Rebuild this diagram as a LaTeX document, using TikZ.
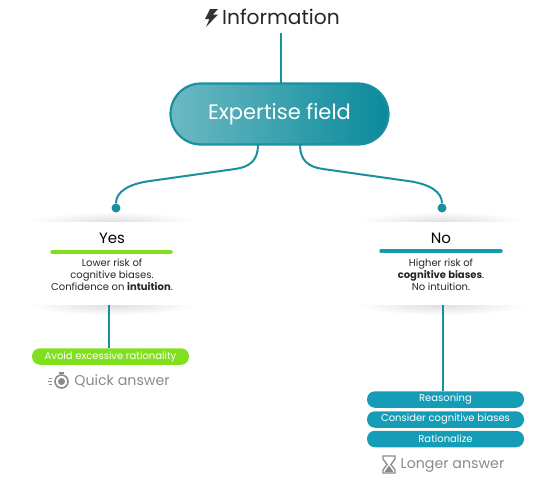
\documentclass[tikz,border=0pt]{standalone}
\usepackage{fontspec}
\setmainfont{Poppins}
\usetikzlibrary{positioning}
\definecolor{tealline}{HTML}{1A8FA0}
\definecolor{fieldright}{HTML}{0A8A9C}
\definecolor{fieldleft}{HTML}{6CB9C2}
\definecolor{pillblue}{HTML}{159DB8}
\definecolor{limegreen}{HTML}{80E01E}
\definecolor{softgray}{HTML}{8A8A8A}
\tikzset{
    link/.style={draw=tealline, line width=2pt},
    dot/.style={circle, fill=tealline, minimum size=9pt, inner sep=0pt},
    pill/.style={rounded corners=8pt, minimum width=157pt, minimum height=16.5pt, inner sep=0pt, text=white, font=\fontsize{10}{11}\selectfont},
    cardtext/.style={align=center, text=black!85, font=\fontsize{10}{12}\selectfont},
    bar/.style={line width=3.5pt, line cap=round},
    answer/.style={text=softgray, font=\fontsize{14.2}{16}\selectfont}
}
\begin{document}
\begin{tikzpicture}[x=1pt,y=-1pt]
    \useasboundingbox (0,0) rectangle (560,490);
    % soft shadows behind the two cards
    \foreach \cx in {112,441}
        {
            \shade[inner color=black!13, outer color=white] (\cx,222) ellipse (85 and 10);
            \shade[inner color=black!13, outer color=white] (\cx,305) ellipse (85 and 10);
            \fill[white] (\cx-90,222) rectangle (\cx+90,305);
        }

    \node[font=\fontsize{20.2}{22}\selectfont, text=black!85] (info) at (281,17) {Information};
    \fill[black!80] (210,9) -- (205,19) -- (209.5,19) -- (206,27) -- (218,14.5) -- (213,14.5) -- (218,9) -- cycle;
    \node[minimum width=218pt, minimum height=61pt, rounded corners=30.5pt, draw=tealline, line width=2.2pt, left color=fieldleft, right color=fieldright, text=white, font=\fontsize{21}{23}\selectfont] (field) at (279.5,114) {Expertise field};
    \coordinate (infoout) at (281,33);
    \draw[link] (infoout) -- (281,83);

    \node[dot] (yesdot) at (116,208) {};
    \node[dot] (nodot) at (442,208) {};
    \coordinate (yesin) at (258,145);
    \coordinate (noin) at (300,145);
    \draw[link] (yesin) .. controls (258,160) and (250,167) .. (235,169) -- (150,181) .. controls (128,184) and (116,192) .. (yesdot);
    \draw[link] (noin) .. controls (300,160) and (308,167) .. (323,169) -- (408,181) .. controls (430,184) and (442,192) .. (nodot);

    % yes side
    \node[font=\fontsize{15}{17}\selectfont, text=black] (yes) at (112,238) {Yes};
    \draw[bar, limegreen] (52,252) coordinate (yesbar) -- (171,252);
    \node[cardtext] (yestext) at (112,275) {Lower risk of\\cognitive biases.\\Confidence on \textbf{intuition}.};
    \node[pill, fill=limegreen] (avoid) at (110.5,356.5) {Avoid excessive rationality};
    \coordinate (yesout) at (109,305);
    \draw[link] (yesout) -- (avoid.north -| yesout);
    \node[answer] (quick) at (122,381) {Quick answer};

    % stopwatch
    \draw[softgray, line width=1.6pt] (61.5,381.5) circle (6.5pt);
    \fill[softgray] (61.5,381.5) circle (3.5pt);
    \fill[softgray] (59,371.5) rectangle (64,373.5);
    \foreach \j/\k in {378/49,381/47.5,384/49}
        {\draw[softgray, line width=1pt] (\k,\j) -- (52,\j);}

    % no side
    \node[font=\fontsize{15}{17}\selectfont, text=black] (no) at (441,238) {No};
    \draw[bar, tealline!90!cyan] (381,251) coordinate (nobar) -- (501,251);
    \node[cardtext] (notext) at (441,275) {Higher risk of\\\textbf{cognitive biases}.\\No intuition.};
    \node[pill, fill=pillblue] (reason) at (445.5,399.5) {Reasoning};
    \node[pill, fill=pillblue] (consider) at (445.5,419.5) {Consider cognitive biases};
    \node[pill, fill=pillblue] (rational) at (445.5,439) {Rationalize};
    \coordinate (noout) at (443,305);
    \draw[link] (noout) -- (reason.north -| noout);
    \node[answer] (longer) at (452.5,465) {Longer answer};

    % hourglass
    \draw[softgray, line width=1.3pt] (383,456) -- (395,456) -- (395,459) -- (391,464.5) -- (395,470) -- (395,473) -- (383,473) -- (383,470) -- (387,464.5) -- (383,459) -- cycle;
    \fill[softgray] (384.5,472) -- (389,465.5) -- (393.5,472) -- cycle;
\end{tikzpicture}
\end{document}
